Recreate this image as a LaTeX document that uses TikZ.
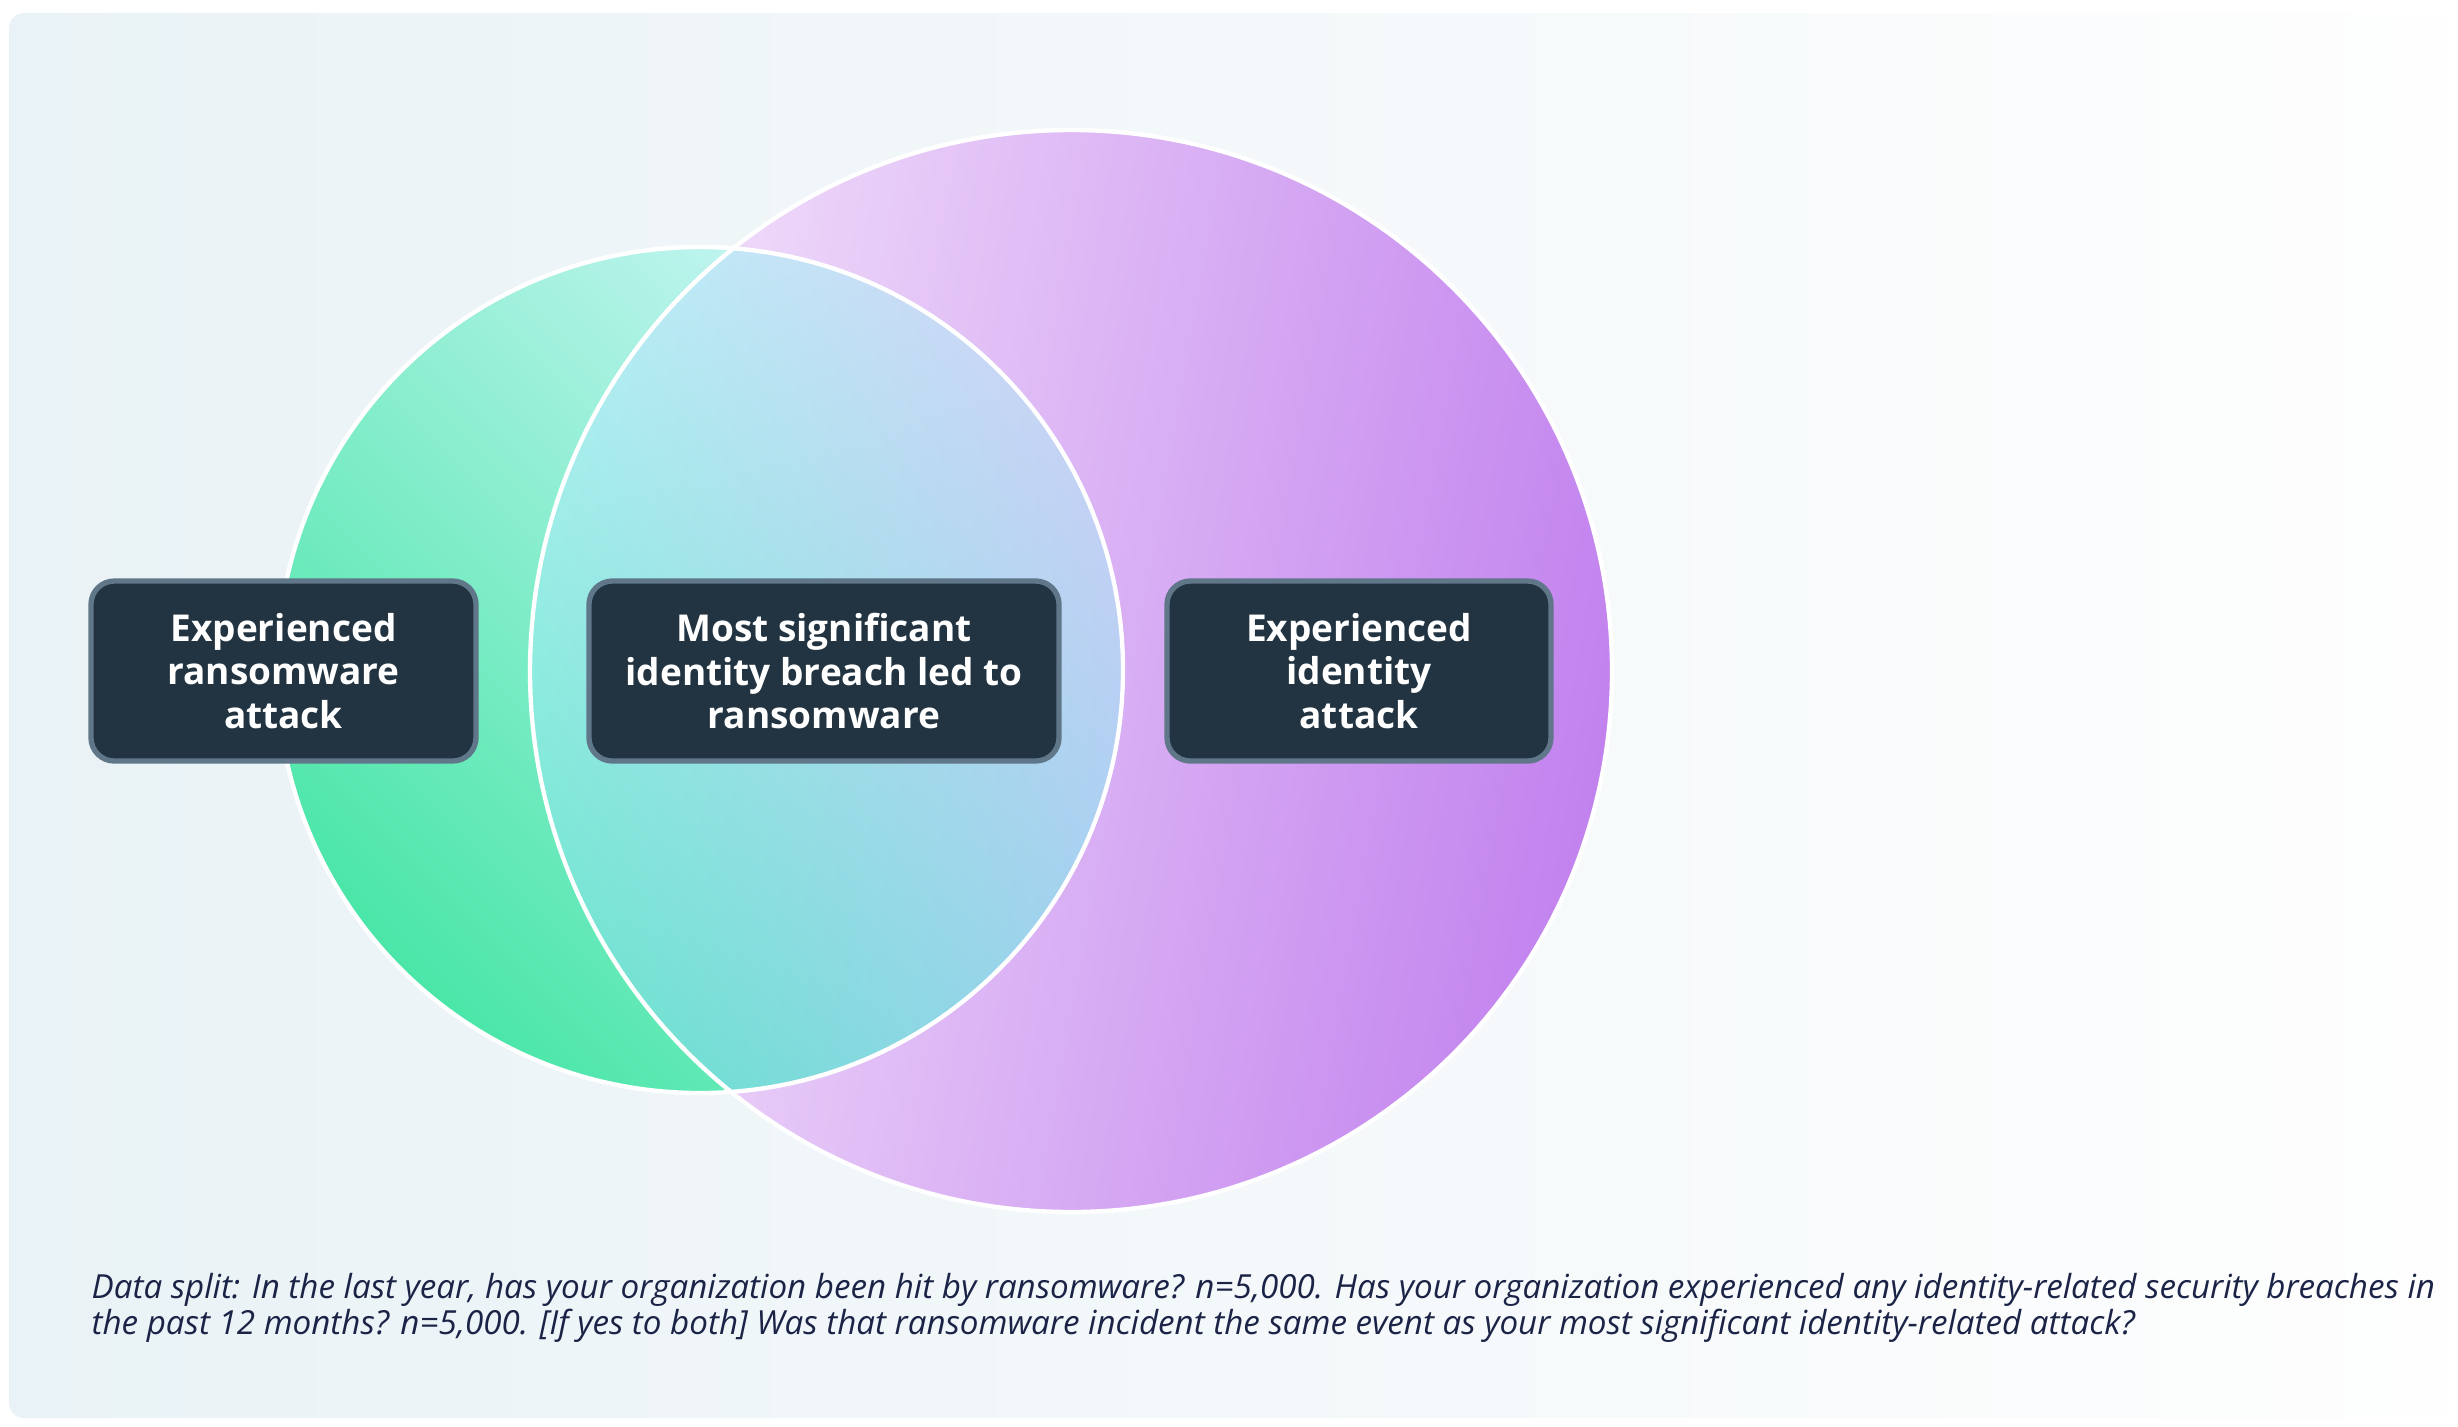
\documentclass[tikz,border=0pt]{standalone}
\usepackage{fontspec}
\setmainfont{Open Sans}
\usetikzlibrary{shadings}
\definecolor{bgL}{HTML}{E9F2F6}
\definecolor{bgR}{HTML}{FEFEFE}
\definecolor{purL}{HTML}{F4E4FB}
\definecolor{purR}{HTML}{C282EE}
\definecolor{tealA}{HTML}{4AE6A8}
\definecolor{tealM}{HTML}{88EEE6}
\definecolor{tealB}{HTML}{CEF6F8}
\definecolor{isUL}{HTML}{B8F2F6}
\definecolor{isUR}{HTML}{D6D0F7}
\definecolor{isLL}{HTML}{62E4C8}
\definecolor{isLR}{HTML}{9CD0F0}
\definecolor{boxfill}{HTML}{223441}
\definecolor{boxline}{HTML}{607689}
\definecolor{captxt}{HTML}{1B2447}
\begin{document}
\begin{tikzpicture}[x=0.3pt,y=-0.3pt,
  lbox/.style={draw=boxline, line width=1.6pt, fill=boxfill, rounded corners=7pt,
    minimum height=54pt, text=white, align=center, inner sep=0pt,
    font=\bfseries\fontsize{11.1}{13}\selectfont},
  captext/.style={anchor=base west, inner sep=0pt, text=captxt,
    font=\itshape\fontsize{9.95}{12}\selectfont},
  ring/.style={draw=white, line width=1.3pt}]
\useasboundingbox (0,0) rectangle (2458,1426);
\shade[left color=bgL, right color=bgR, rounded corners=4.5pt] (9,13) rectangle (2447,1418);
% identity attack circle
\shade[left color=purL, right color=purR, shading angle=80] (1071,671) circle[radius=162.3pt];
% ransomware circle
\shade[top color=tealB, middle color=tealM, bottom color=tealA, shading angle=-45] (700,670) circle[radius=126.9pt];
% overlap
\begin{scope}
  \clip (700,670) circle[radius=126.9pt];
  \clip (1071,671) circle[radius=162.3pt];
  \shade[upper left=isUL, upper right=isUR, lower left=isLL, lower right=isLR] (530,249) rectangle (1124,1093);
\end{scope}
\draw[ring] (1071,671) circle[radius=162.3pt];
\draw[ring] (700,670) circle[radius=126.9pt];
% labels
\node[lbox, minimum width=115.5pt] (ransom) at (283.5,671) {Experienced\\ransomware\\attack};
\node[lbox, minimum width=141pt] (both) at (824,671) {Most significant\\identity breach led to\\ransomware};
\node[lbox, minimum width=115.2pt] (ident) at (1359,671) {Experienced\\identity\\attack};
% caption
\node[captext] (cap1) at (91,1298) {Data split: In the last year, has your organization been hit by ransomware? n=5,000. Has your organization experienced any identity-related security breaches in};
\node[captext] (cap2) at (91,1334) {the past 12 months? n=5,000. [If yes to both] Was that ransomware incident the same event as your most significant identity-related attack?};
\end{tikzpicture}
\end{document}
